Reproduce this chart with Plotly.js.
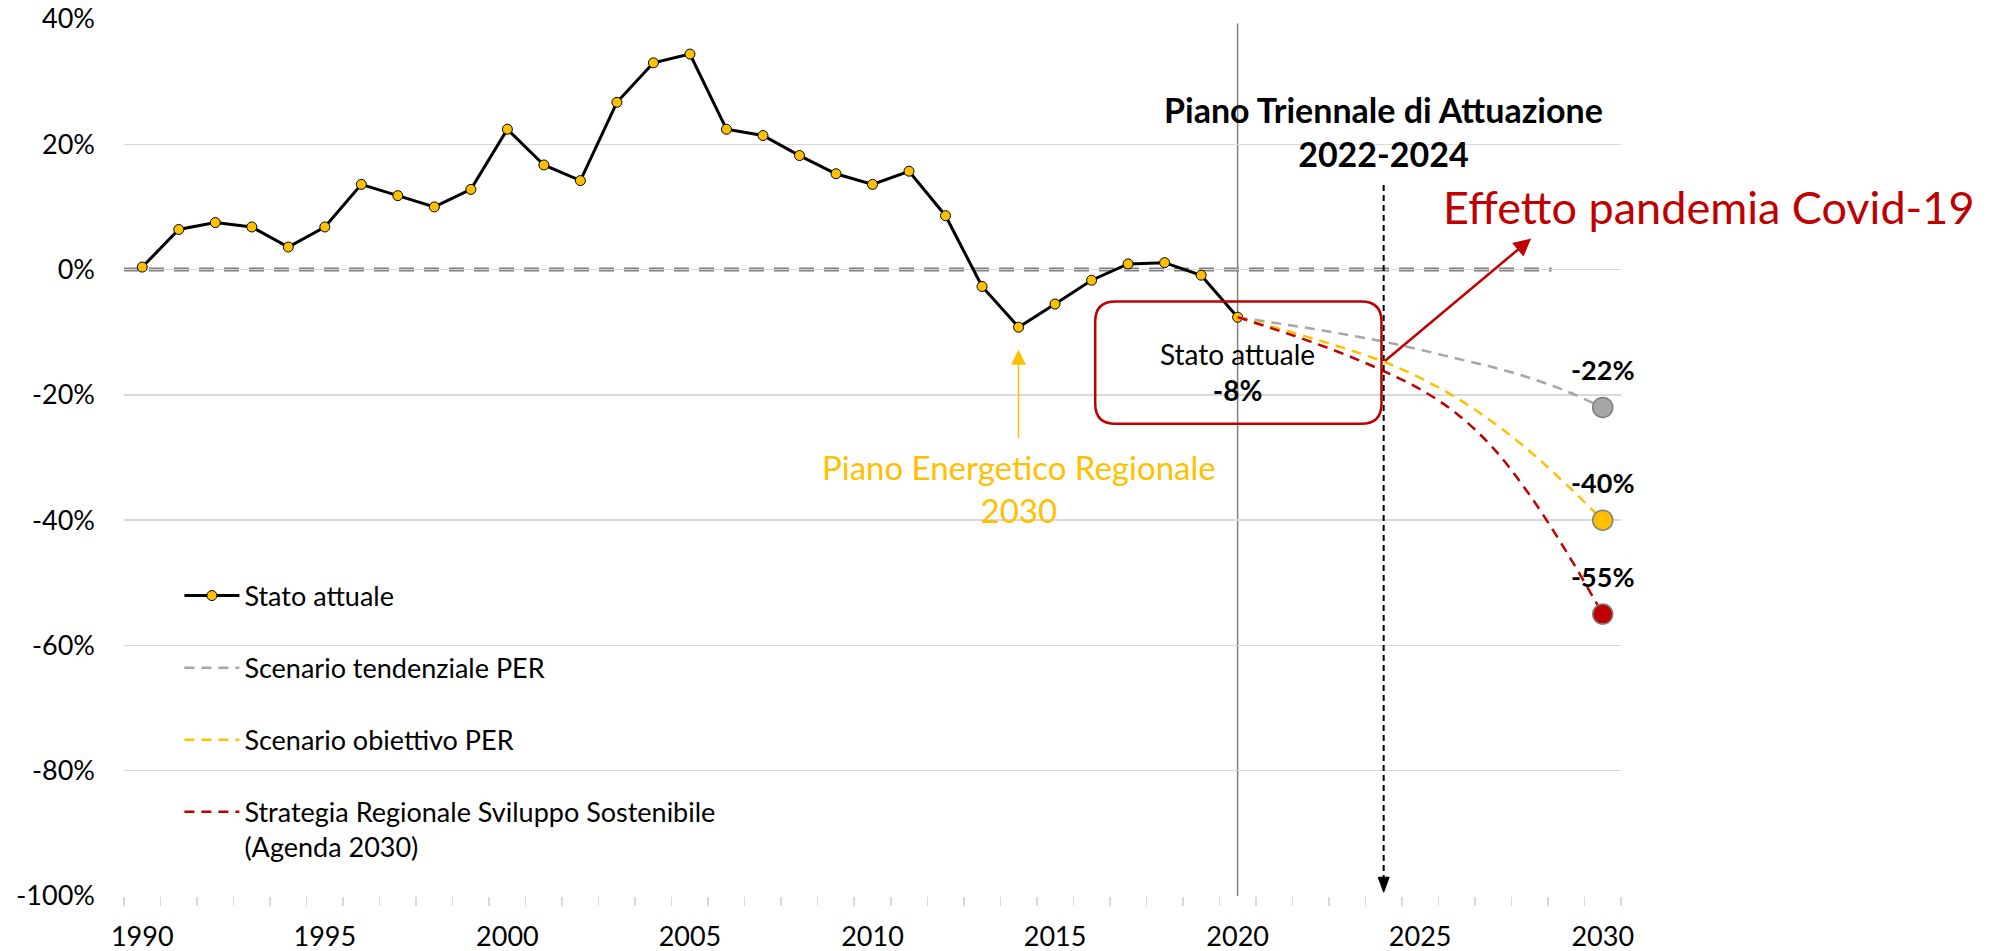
<!DOCTYPE html>
<html>
<head>
<meta charset="utf-8">
<script src="https://cdn.plot.ly/plotly-3.0.1.min.js"></script>
<style>
  html, body { margin: 0; padding: 0; background: #ffffff; }
  #chart { width: 1998px; height: 951px; }
</style>
</head>
<body>
<div id="chart"></div>
<script>
// ---------- DATA ----------
const yearsHist = [1990,1991,1992,1993,1994,1995,1996,1997,1998,1999,2000,2001,2002,2003,2004,2005,2006,2007,2008,2009,2010,2011,2012,2013,2014,2015,2016,2017,2018,2019,2020];
const statoAttuale = [0.4,6.4,7.5,6.8,3.6,6.8,13.6,11.8,10.0,12.8,22.4,16.7,14.2,26.7,33.0,34.4,22.4,21.4,18.2,15.3,13.6,15.7,8.6,-2.7,-9.2,-5.5,-1.7,0.9,1.1,-0.9,-7.6];

const yearsScen = [2020,2021,2022,2023,2024,2025,2026,2027,2028,2029,2030];
const scenTendenziale = [-7.6,-8.5,-9.4,-10.4,-11.5,-12.8,-14.2,-15.6,-17.3,-19.4,-22];
const scenObiettivo   = [-7.6,-9.2,-10.9,-12.7,-14.7,-17.3,-20.5,-24.4,-29.0,-34.3,-40];
const strategiaRSS    = [-7.6,-9.5,-11.5,-13.7,-16.2,-19.1,-23.0,-28.5,-36.0,-45.0,-55];

const seriesNames = ['Stato attuale','Scenario tendenziale PER','Scenario obiettivo PER','Strategia Regionale Sviluppo Sostenibile<br>(Agenda 2030)'];

const yTickVals = [40,20,0,-20,-40,-60,-80,-100];
const yTickText = yTickVals.map(v => v + '%');
const xTickVals = [1990,1995,2000,2005,2010,2015,2020,2025,2030];
const xTickText = xTickVals.map(String);

const annoPiano = 'Piano Triennale di Attuazione';
const annoPianoYears = '2022-2024';
const annoCovid = 'Effetto pandemia Covid-19';
const annoPER = 'Piano Energetico Regionale<br>2030';

// ---------- STYLE ----------
const FONT = 'Lato, "Liberation Sans", sans-serif';
const GRAY = '#a6a6a6', YELLOW = '#ffc000', RED = '#c00000';
const SCEN_DASH = '10px,7px';

const last = a => a[a.length - 1];
const pct = v => Math.round(v) + '%';

const traces = [
  {
    x: yearsHist, y: statoAttuale, name: seriesNames[0], type: 'scatter', mode: 'lines+markers',
    line: {color: '#000000', width: 3},
    marker: {color: YELLOW, size: 10, line: {color: '#000000', width: 1}},
    legendgroup: 'g1'
  },
  {
    x: yearsScen, y: scenTendenziale, name: seriesNames[1], type: 'scatter', mode: 'lines',
    line: {color: GRAY, width: 2.5, dash: SCEN_DASH, shape: 'spline'}, legendgroup: 'g2'
  },
  {
    x: yearsScen, y: scenObiettivo, name: seriesNames[2], type: 'scatter', mode: 'lines',
    line: {color: YELLOW, width: 2.5, dash: SCEN_DASH, shape: 'spline'}, legendgroup: 'g3'
  },
  {
    x: yearsScen, y: strategiaRSS, name: seriesNames[3], type: 'scatter', mode: 'lines',
    line: {color: RED, width: 2.5, dash: SCEN_DASH, shape: 'spline'}, legendgroup: 'g4'
  }
];
[[scenTendenziale, GRAY], [scenObiettivo, YELLOW], [strategiaRSS, RED]].forEach(([arr, col]) => {
  traces.push({
    x: [last(yearsScen)], y: [last(arr)], type: 'scatter', mode: 'markers', showlegend: false,
    marker: {color: col, size: 20, line: {color: '#7f7f7f', width: 1.5}}
  });
});

function roundRect(x0, x1, y0, y1, rx, ry) {
  return `M ${x0+rx},${y1} L ${x1-rx},${y1} Q ${x1},${y1} ${x1},${y1-ry} L ${x1},${y0+ry} Q ${x1},${y0} ${x1-rx},${y0} ` +
         `L ${x0+rx},${y0} Q ${x0},${y0} ${x0},${y0+ry} L ${x0},${y1-ry} Q ${x0},${y1} ${x0+rx},${y1} Z`;
}

const shapes = [
  // dashed zero reference line
  {type: 'line', xref: 'x', yref: 'y', x0: 1989.5, x1: 2028.6, y0: 0, y1: 0, layer: 'below',
   line: {color: '#808080', width: 4, dash: '15px,10px'}},
  // vertical line at 2020
  {type: 'line', xref: 'x', yref: 'y', x0: 2020, x1: 2020, y0: -100, y1: 39.3, layer: 'below',
   line: {color: '#808080', width: 1.5}},
  // dashed black arrow shaft at 2024
  {type: 'line', xref: 'x', yref: 'y', x0: 2024, x1: 2024, y0: 13.5, y1: -97.2, layer: 'above',
   line: {color: '#000000', width: 2, dash: '6px,4px'}},
  // arrow head
  {type: 'path', xref: 'x', yref: 'y', layer: 'above', path: 'M 2023.85,-97 L 2024.15,-97 L 2024,-99.4 Z',
   fillcolor: '#000000', line: {color: '#000000', width: 1}},
  // rounded box
  {type: 'path', xref: 'x', yref: 'y', layer: 'above', path: roundRect(2016.1, 2023.94, -24.6, -5.1, 0.55, 3.2),
   line: {color: RED, width: 2.5}, fillcolor: 'rgba(0,0,0,0)'}
];

const annotations = [
  {x: 2024, y: 22.0, xref: 'x', yref: 'y', showarrow: false, xanchor: 'center', yanchor: 'middle',
   text: '<b>' + annoPiano + '</b><br><b>' + annoPianoYears + '</b>', font: {family: FONT, size: 34, color: '#000000'}},
  {x: 1.0588, y: 10.0, xref: 'paper', yref: 'y', showarrow: false, xanchor: 'center', yanchor: 'middle',
   text: annoCovid, font: {family: FONT, size: 45, color: RED}},
  {x: 2020, y: -16.3, xref: 'x', yref: 'y', showarrow: false, xanchor: 'center', yanchor: 'middle',
   text: 'Stato attuale<br><b>' + pct(last(statoAttuale)) + '</b>', font: {family: FONT, size: 28, color: '#000000'}},
  {x: 2014, y: -35.0, xref: 'x', yref: 'y', showarrow: false, xanchor: 'center', yanchor: 'middle',
   text: annoPER, font: {family: FONT, size: 33, color: YELLOW}},
  // red arrow
  {x: 2028.04, y: 4.95, ax: 2024, ay: -14.75, xref: 'x', yref: 'y', axref: 'x', ayref: 'y', text: '',
   showarrow: true, arrowhead: 2, arrowsize: 1.4, arrowwidth: 2.5, arrowcolor: RED, standoff: 0, startstandoff: 0},
  // yellow arrow
  {x: 2014, y: -12.8, ax: 2014, ay: -27.2, xref: 'x', yref: 'y', axref: 'x', ayref: 'y', text: '',
   showarrow: true, arrowhead: 2, arrowsize: 2, arrowwidth: 1.5, arrowcolor: YELLOW, standoff: 0, startstandoff: 0}
];
[scenTendenziale, scenObiettivo, strategiaRSS].forEach(arr => {
  annotations.push({x: last(yearsScen), y: last(arr), xref: 'x', yref: 'y', yshift: 38, showarrow: false,
    xanchor: 'center', yanchor: 'middle', text: '<b>' + pct(last(arr)) + '</b>',
    font: {family: FONT, size: 27, color: '#000000'}});
});

const layout = {
  width: 1998, height: 951,
  margin: {l: 124, r: 377, t: 19, b: 55, pad: 0},
  paper_bgcolor: '#ffffff', plot_bgcolor: '#ffffff',
  font: {family: FONT, color: '#000000'},
  showlegend: true,
  legend: {
    x: 0.037, y: 0.37, xanchor: 'left', yanchor: 'top',
    bgcolor: 'rgba(0,0,0,0)', borderwidth: 0,
    font: {family: FONT, size: 27, color: '#000000'},
    traceorder: 'grouped', tracegroupgap: 34, itemwidth: 55, valign: 'top'
  },
  xaxis: {
    range: [1989.5, 2030.5], tickmode: 'array', tickvals: xTickVals, ticktext: xTickText,
    showgrid: false, zeroline: false, showline: false, ticks: '',
    tickfont: {family: FONT, size: 27, color: '#000000'}, ticklabelstandoff: 22,
    minor: {tick0: 1989.5, dtick: 1, ticks: 'outside', ticklen: 9, tickwidth: 1.5, tickcolor: '#d9d9d9', showgrid: false},
    fixedrange: true
  },
  yaxis: {
    range: [-100, 40], tickmode: 'array', tickvals: yTickVals, ticktext: yTickText,
    showgrid: true, gridcolor: '#d9d9d9', gridwidth: 1.5, zeroline: false, showline: false, ticks: '',
    tickfont: {family: FONT, size: 27, color: '#000000'}, ticklabelstandoff: 28,
    fixedrange: true
  },
  shapes: shapes,
  annotations: annotations
};

Plotly.newPlot('chart', traces, layout, {displayModeBar: false, staticPlot: true});
</script>
</body>
</html>
